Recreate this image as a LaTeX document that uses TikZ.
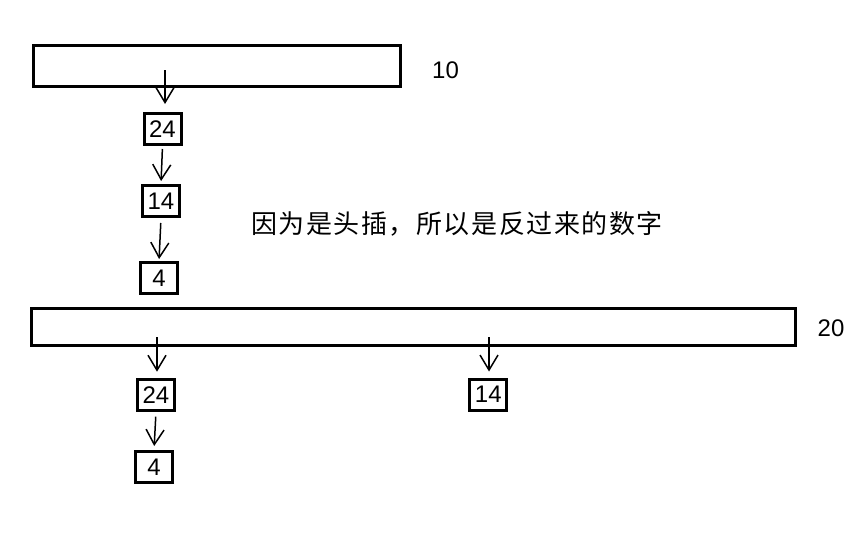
\documentclass[tikz,border=0pt]{standalone}
\usepackage{fontspec}
\setmainfont{Liberation Sans}
\newfontfamily\cjk[LetterSpace=6]{Noto Sans CJK SC}
\usetikzlibrary{arrows.meta}
\tikzset{
  bigrect/.style={draw, line width=3pt, inner sep=0pt},
  cell/.style={draw, line width=3pt, inner sep=0pt, minimum width=37pt, minimum height=31pt, font=\fontsize{24}{24}\selectfont},
  lbl/.style={inner sep=0pt, font=\fontsize{24}{24}\selectfont},
  arr/.style={line width=1.5pt, -{Straight Barb[length=15pt, width=18pt, line width=1.5pt]}}
}
\begin{document}
\begin{tikzpicture}[x=1pt, y=-1pt]
\useasboundingbox (0,0) rectangle (859,554);
% top bucket
\node[bigrect, minimum width=367pt, minimum height=41pt] (r1) at (217,66) {};
\node[lbl] (l10) at (445.5,70) {10};
\node[cell] (t24) at (162.5,129) {24};
\node[cell] (t14) at (161,201) {14};
\node[cell] (t4) at (159,278) {4};
\coordinate (s1) at (165,70);
\draw[arr, shorten >=8pt] (s1) -- (s1 |- t24.north);
\draw[arr, shorten <=3pt, shorten >=3pt] (t24.south) -- (t14.north);
\draw[arr, shorten <=5pt, shorten >=2pt] (t14.south) -- (t4.north);
% text
\node[inner sep=0pt, font=\cjk\fontsize{26}{26}\selectfont] (note) at (457,224) {因为是头插，所以是反过来的数字};
% bottom bucket
\node[bigrect, minimum width=764pt, minimum height=37pt] (r2) at (413.5,326.7) {};
\node[lbl] (l20) at (831,328) {20};
\node[cell] (b24) at (156,394.7) {24};
\node[cell] (b4) at (154,467) {4};
\node[cell] (b14) at (488.3,394.5) {14};
\coordinate (s2) at (157,337);
\coordinate (s3) at (489,337);
\draw[arr, shorten >=6pt] (s2) -- (s2 |- b24.north);
\draw[arr, shorten >=6pt] (s3) -- (s3 |- b14.north);
\draw[arr, shorten <=5pt, shorten >=4pt] (b24.south) -- (b4.north);
\end{tikzpicture}
\end{document}
